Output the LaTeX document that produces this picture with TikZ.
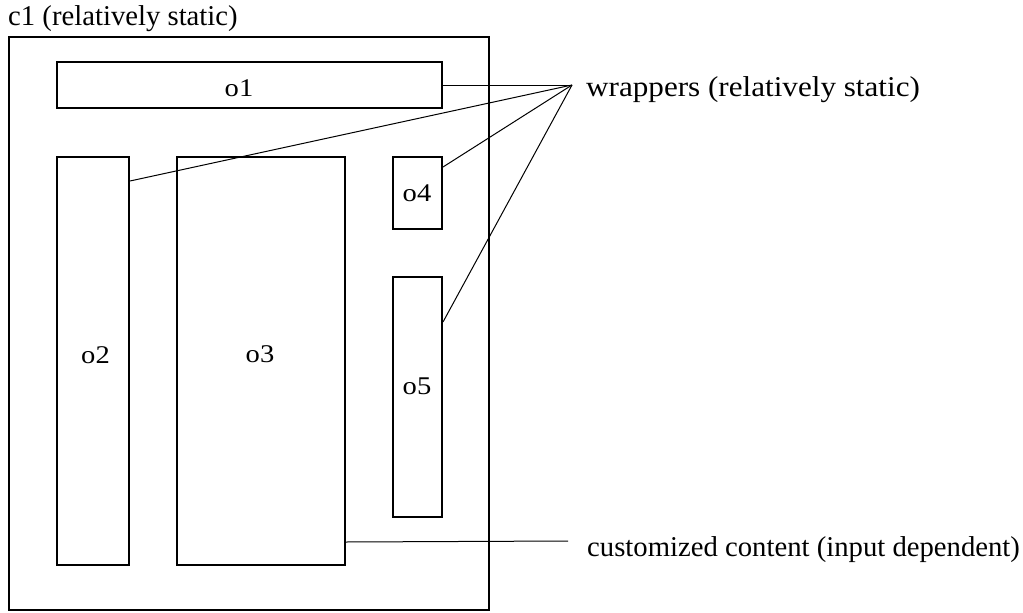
\documentclass[tikz,border=0pt]{standalone}
\usepackage{fontspec}
\setmainfont{Liberation Serif}
\newfontfamily\widefont[FakeStretch=1.085]{Liberation Serif}
\newfontfamily\innerfont[FakeStretch=1.12]{Liberation Serif}
\usetikzlibrary{calc}
\tikzset{
  boxnode/.style={draw, line width=2pt, rectangle, inner sep=0pt, minimum width=#1},
  boxnode/.default=10pt,
  boxlabel/.style={anchor=base, inner sep=0pt, font=\innerfont\fontsize{25.5}{30}\selectfont},
  sidelabel/.style={anchor=base west, inner sep=0pt, font=\fontsize{28.7}{35}\selectfont},
  conn/.style={line width=1pt}
}
\begin{document}
\begin{tikzpicture}[x=1pt,y=-1pt]
\useasboundingbox (0,0) rectangle (1023,613);
% boxes
\node[boxnode=480pt, minimum height=573pt] (c1) at (249,323.5) {};
\node[boxnode=385pt, minimum height=46pt] (o1) at (249.5,85) {};
\node[boxnode=72pt, minimum height=408pt] (o2) at (93,361) {};
\node[boxnode=168pt, minimum height=408pt] (o3) at (261,361) {};
\node[boxnode=49pt, minimum height=72pt] (o4) at (417.5,193) {};
\node[boxnode=49pt, minimum height=240pt] (o5) at (417.5,397) {};
% box labels
\node[boxlabel] (lo1) at (239,96.5) {o1};
\node[boxlabel] (lo2) at (95.5,363) {o2};
\node[boxlabel] (lo3) at (260,362) {o3};
\node[boxlabel] (lo4) at (417,201.5) {o4};
\node[boxlabel] (lo5) at (417,394) {o5};
% outer labels
\node[sidelabel] (lc1) at (8,25.7) {c1 (relatively static)};
\node[sidelabel] (lw) at (586,96.7) {\widefont wrappers (relatively static)};
\node[sidelabel] (lc) at (587,556.8) {customized content (input dependent)};
% connectors
\coordinate (W) at (572,85);
\coordinate (C) at (568,541);
\draw[conn] (o1.east) -- (W);
\draw[conn] ($(o2.north east)+(0,25)$) -- (W);
\draw[conn] ($(o4.north east)+(0,11)$) -- (W);
\draw[conn] ($(o5.north east)+(0,46)$) -- (W);
\draw[conn] ($(o3.south east)+(0,-24)$) -- (C);
\end{tikzpicture}
\end{document}
